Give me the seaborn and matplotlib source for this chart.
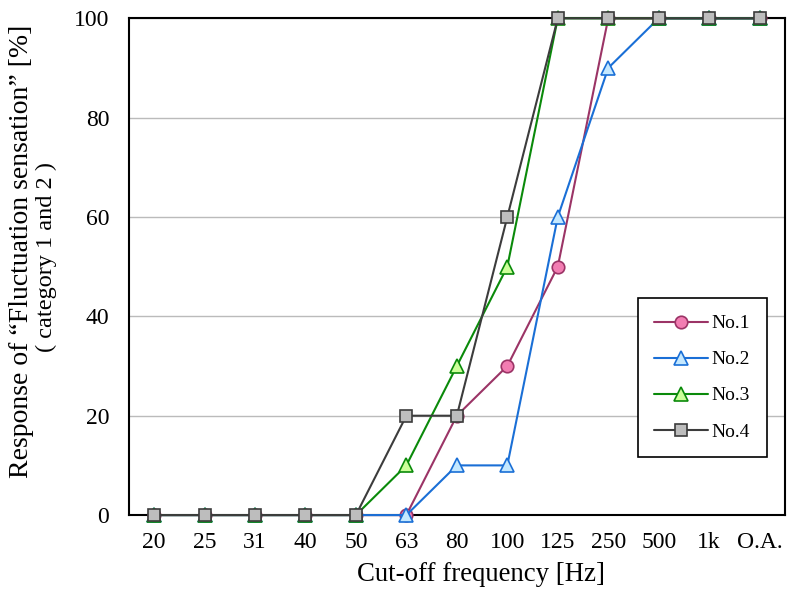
import matplotlib
matplotlib.use("Agg")
import matplotlib.pyplot as plt
import seaborn as sns
import numpy as np
import pandas as pd

categories = ["20", "25", "31", "40", "50", "63", "80", "100", "125", "250", "500", "1k", "O.A."]
no1 = [0, 0, 0, 0, 0, 0, 20, 30, 50, 100, 100, 100, 100]
no2 = [0, 0, 0, 0, 0, 0, 10, 10, 60, 90, 100, 100, 100]
no3 = [0, 0, 0, 0, 0, 10, 30, 50, 100, 100, 100, 100, 100]
no4 = [0, 0, 0, 0, 0, 20, 20, 60, 100, 100, 100, 100, 100]
series_names = ["No.1", "No.2", "No.3", "No.4"]

sns.set_theme(style="white")
plt.rcParams["font.family"] = ["Liberation Serif", "DejaVu Serif"]
plt.rcParams["text.color"] = "black"
plt.rcParams["xtick.color"] = "black"
plt.rcParams["ytick.color"] = "black"
plt.rcParams["axes.labelcolor"] = "black"

fig = plt.figure(figsize=(8.05, 5.9), dpi=100)
ax = fig.add_axes([0.160, 0.127, 0.815, 0.842])

pos = np.arange(len(categories))
frames = []
for name, vals in zip(series_names, [no1, no2, no3, no4]):
    frames.append(pd.DataFrame({"x": pos, "y": vals, "series": name}))
df = pd.concat(frames, ignore_index=True)

styles = {
    "No.1": dict(color="#9B3466", marker="o", mfc="#F27DB2", mec="#9B3466", ms=9),
    "No.2": dict(color="#1A6FD6", marker="^", mfc="#C4E8FF", mec="#1A6FD6", ms=10),
    "No.3": dict(color="#0A8A0A", marker="^", mfc="#CCFF99", mec="#0A8A0A", ms=10),
    "No.4": dict(color="#3C3C3C", marker="s", mfc="#BDBDBD", mec="#3C3C3C", ms=9),
}
for i, name in enumerate(series_names):
    st = styles[name]
    sub = df[df["series"] == name]
    sns.lineplot(data=sub, x="x", y="y", ax=ax, color=st["color"], lw=1.5,
                 marker=st["marker"], markerfacecolor=st["mfc"],
                 markeredgecolor=st["mec"], markeredgewidth=1.2,
                 markersize=st["ms"], label=name, zorder=3 + i, clip_on=False)

ax.set_xlim(-0.5, len(categories) - 0.5)
ax.set_ylim(0, 100)
ax.set_yticks([0, 20, 40, 60, 80, 100])
ax.yaxis.grid(True, color="#BBBBBB", lw=1)
ax.set_axisbelow(True)

ax.set_xticks(np.arange(len(categories) + 1) - 0.5)
ax.set_xticklabels([])
ax.set_xticks(pos, minor=True)
ax.set_xticklabels(categories, minor=True, fontsize=17)
ax.tick_params(axis="x", which="major", direction="in", length=6, width=1.2, color="black")
ax.tick_params(axis="x", which="minor", length=0, pad=12)
ax.tick_params(axis="y", direction="in", length=0, labelsize=17, pad=14)

for s in ax.spines.values():
    s.set_color("black")
    s.set_linewidth(1.5)

ax.set_xlabel("Cut-off frequency [Hz]", fontsize=19.3)
ax.xaxis.set_label_coords(0.537, -0.094)
ax.set_ylabel("")
ax.text(-0.164, 0.53, "Response of \u201cFluctuation sensation\u201d [%]", rotation=90,
        transform=ax.transAxes, ha="center", va="center", fontsize=20)
ax.text(-0.125, 0.52, "( category 1 and 2 )", rotation=90,
        transform=ax.transAxes, ha="center", va="center", fontsize=17.5)

leg = ax.legend(loc="upper left", bbox_to_anchor=(0.776, 0.4366), borderaxespad=0,
                fontsize=14, frameon=True, fancybox=False,
                labelspacing=0.95, handlelength=2.75, borderpad=0.85, handletextpad=0.2)
leg.get_frame().set_edgecolor("black")
leg.get_frame().set_linewidth(1.2)
leg.get_frame().set_alpha(1)
for t in leg.get_texts():
    t.set_color("black")

fig.savefig("out.png", dpi=100)
